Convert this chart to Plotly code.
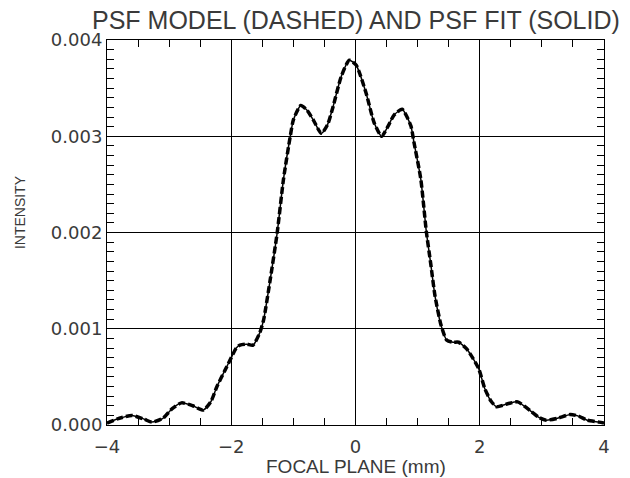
import plotly.graph_objects as go

# Focal-plane position (mm) and intensity
focal_x = [-4.0, -3.8, -3.6, -3.4, -3.28, -3.1, -2.95, -2.8, -2.62, -2.45, -2.33, -2.23,
           -2.1, -2.0, -1.92, -1.86, -1.75, -1.65, -1.54, -1.48, -1.38, -1.26, -1.16,
           -1.05, -1.0, -0.88, -0.78, -0.68, -0.55, -0.45, -0.36, -0.23, -0.1, 0.01,
           0.17, 0.30, 0.42, 0.52, 0.62, 0.75, 0.89, 0.94, 1.05, 1.14, 1.21, 1.28,
           1.38, 1.47, 1.57, 1.66, 1.79, 1.98, 2.08, 2.18, 2.27, 2.45, 2.61, 2.83,
           2.95, 3.07, 3.25, 3.46, 3.6, 3.73, 3.92, 4.0]
psf_model = [0.00002, 0.00007, 0.00010, 0.00006, 0.00003, 0.00007, 0.00017, 0.00023,
             0.00020, 0.000155, 0.00024, 0.00040, 0.00057, 0.00070, 0.00080, 0.00083,
             0.00084, 0.00083, 0.00096, 0.00109, 0.00148, 0.00200, 0.00255, 0.00300,
             0.00317, 0.00332, 0.00327, 0.00317, 0.00303, 0.00312, 0.00331, 0.00362,
             0.00379, 0.00374, 0.00345, 0.00314, 0.00300, 0.00310, 0.00322, 0.00328,
             0.00311, 0.00294, 0.00256, 0.00201, 0.00168, 0.00134, 0.00103, 0.00088,
             0.00086, 0.00086, 0.00079, 0.00059, 0.00038, 0.00025, 0.00019, 0.00022,
             0.00024, 0.00014, 0.00008, 0.00005, 0.00007, 0.00011, 0.00009, 0.00005,
             0.00003, 0.00002]
psf_fit = list(psf_model)

title_text = "PSF MODEL (DASHED) AND PSF FIT (SOLID)"
x_title = "FOCAL PLANE (mm)"
y_title = "INTENSITY"

text_color = "#3a3a3a"

fig = go.Figure()
fig.add_trace(go.Scatter(x=focal_x, y=psf_fit, mode="lines",
                         line=dict(color="black", width=1.5, shape="spline", smoothing=0.6),
                         showlegend=False))
fig.add_trace(go.Scatter(x=focal_x, y=psf_model, mode="lines",
                         line=dict(color="black", width=3.5, dash="7px,3px", shape="spline", smoothing=0.6),
                         showlegend=False))

axis_common = dict(showline=True, linecolor="black", linewidth=1, mirror="ticks",
                   ticks="inside", tickcolor="black", showgrid=True, gridcolor="black",
                   gridwidth=1, zeroline=False)

fig.update_xaxes(range=[-4, 4], tick0=-4, dtick=2, ticklen=7, ticklabelstandoff=5,
                 minor=dict(dtick=0.5, ticks="inside", ticklen=7, tickcolor="black", showgrid=False),
                 tickfont=dict(family="DejaVu Sans", size=18, color=text_color),
                 **axis_common)
fig.update_yaxes(range=[0, 0.004], tick0=0, dtick=0.001, tickformat=".3f", ticklen=7,
                 minor=dict(dtick=0.0001, ticks="inside", ticklen=7, tickcolor="black", showgrid=False),
                 tickfont=dict(family="DejaVu Sans", size=18, color=text_color),
                 **axis_common)

fig.update_layout(
    width=630, height=478,
    margin=dict(l=107, r=26, t=40, b=53),
    paper_bgcolor="white", plot_bgcolor="white",
    annotations=[
        dict(text=title_text, xref="paper", yref="paper", x=0.501, y=1.052,
             xanchor="center", yanchor="middle", showarrow=False,
             font=dict(family="Liberation Sans", size=25, color=text_color)),
        dict(text=x_title, xref="paper", yref="paper", x=0.502, y=-0.1065,
             xanchor="center", yanchor="middle", showarrow=False,
             font=dict(family="Liberation Sans", size=19, color=text_color)),
        dict(text=y_title, xref="paper", yref="paper", x=-0.175, y=0.553,
             xanchor="center", yanchor="middle", showarrow=False, textangle=-90,
             font=dict(family="Liberation Sans", size=14, color=text_color)),
    ],
)

fig.write_html("out.html")
